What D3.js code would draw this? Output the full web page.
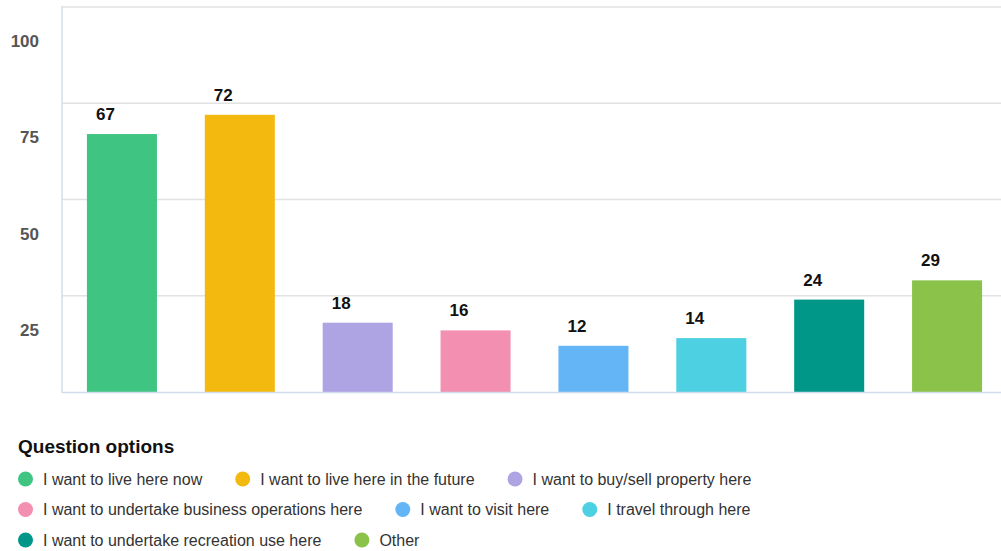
<!DOCTYPE html>
<html><head><meta charset="utf-8">
<script src="https://cdn.jsdelivr.net/npm/d3@7"></script>
<style>
html,body{margin:0;padding:0;background:#fff;}
svg{display:block;font-family:"Liberation Sans",Arial,Helvetica,sans-serif;}
</style></head>
<body>
<svg id="chart" width="1001" height="551"></svg>
<script>
const categories = ["I want to live here now","I want to live here in the future","I want to buy/sell property here","I want to undertake business operations here","I want to visit here","I travel through here","I want to undertake recreation use here","Other"];
const values = [67,72,18,16,12,14,24,29];
const colors = ["#40c482","#f4b90f","#aea4e4","#f38fb1","#64b5f6","#4dd0e1","#009688","#8bc34a"];
const yTicks = [25,50,75,100];
const legendTitle = "Question options";

(function(){
const svg = d3.select("#chart");
const pL = 62, pR = 1006, pT = 7, pB = 392;

const x = d3.scaleBand().domain(categories).range([pL + 1, pR]).paddingInner(0.406).paddingOuter(0.203);
const y = d3.scaleLinear().domain([0,100]).range([pB, pT]);

// gridlines
svg.append("g").selectAll("line").data(yTicks).join("line")
  .attr("x1", pL).attr("x2", 1001)
  .attr("y1", d => y(d)).attr("y2", d => y(d))
  .attr("stroke", "#e2e2e2").attr("stroke-width", 1.3);

// y labels (offset below gridline as in reference)
svg.append("g").selectAll("text").data(yTicks).join("text")
  .attr("x", 39).attr("y", d => y(d) + 40)
  .attr("text-anchor", "end")
  .attr("font-size", 17).attr("font-weight", "bold").attr("fill", "#555")
  .text(d => d);

// bars
svg.append("g").selectAll("rect").data(values).join("rect")
  .attr("x", (d,i) => x(categories[i]))
  .attr("width", x.bandwidth())
  .attr("y", d => y(d))
  .attr("height", d => y(0) - y(d))
  .attr("fill", (d,i) => colors[i]);

// axes lines
svg.append("line").attr("x1", pL).attr("x2", pL).attr("y1", pT-1).attr("y2", pB+1)
  .attr("stroke", "#d3dfec").attr("stroke-width", 1.5);
svg.append("line").attr("x1", pL).attr("x2", 1001).attr("y1", pB+0.5).attr("y2", pB+0.5)
  .attr("stroke", "#cfdcec").attr("stroke-width", 1.5);

// value labels
svg.append("g").selectAll("text").data(values).join("text")
  .attr("x", (d,i) => x(categories[i]) + 9)
  .attr("y", d => y(d) - 14)
  .attr("font-size", 17).attr("font-weight", "bold").attr("fill", "#111")
  .text(d => d);

// legend
svg.append("text").attr("x", 18).attr("y", 453)
  .attr("font-size", 19).attr("font-weight", "bold").attr("fill", "#111")
  .text(legendTitle);

const rowsY = [479, 509.5, 540];
let lx = 18, row = 0;
const maxX = 800;
categories.forEach((c, i) => {
  const g = svg.append("g");
  const t = g.append("text").attr("font-size", 16).attr("fill", "#333").text(c);
  const w = t.node().getComputedTextLength();
  const itemW = 25 + w;
  if (lx + itemW > maxX && lx > 18) { row++; lx = 18; }
  g.append("circle").attr("cx", lx + 7.5).attr("cy", rowsY[row]).attr("r", 7.5).attr("fill", colors[i]);
  t.attr("x", lx + 25).attr("y", rowsY[row] + 5.5);
  lx += itemW + 33;
});
})();
</script>
</body></html>
